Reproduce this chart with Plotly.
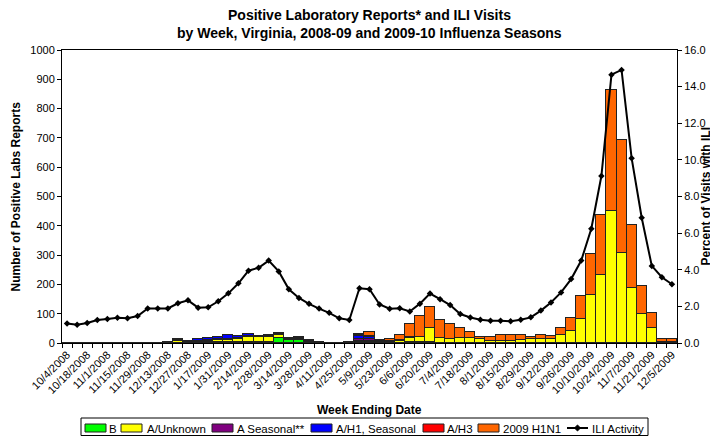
import plotly.graph_objects as go

weeks = ["10/4/2008", "10/11/2008", "10/18/2008", "10/25/2008", "11/1/2008", "11/8/2008",
         "11/15/2008", "11/22/2008", "11/29/2008", "12/6/2008", "12/13/2008", "12/20/2008",
         "12/27/2008", "1/10/2009", "1/17/2009", "1/24/2009", "1/31/2009", "2/7/2009",
         "2/14/2009", "2/21/2009", "2/28/2009", "3/7/2009", "3/14/2009", "3/21/2009",
         "3/28/2009", "4/4/2009", "4/11/2009", "4/18/2009", "4/25/2009", "5/2/2009",
         "5/9/2009", "5/16/2009", "5/23/2009", "5/30/2009", "6/6/2009", "6/13/2009",
         "6/20/2009", "6/27/2009", "7/4/2009", "7/11/2009", "7/18/2009", "7/25/2009",
         "8/1/2009", "8/8/2009", "8/15/2009", "8/22/2009", "8/29/2009", "9/5/2009",
         "9/12/2009", "9/19/2009", "9/26/2009", "10/3/2009", "10/10/2009", "10/17/2009",
         "10/24/2009", "10/31/2009", "11/7/2009", "11/14/2009", "11/21/2009", "11/28/2009",
         "12/5/2009"]

flu_b = [0, 0, 0, 0, 0, 0, 0, 0, 0, 0, 0, 1, 1, 1, 2, 2, 3, 3, 4, 4,
         5, 18, 10, 10, 3, 1, 0, 0, 1, 4, 3, 1, 1, 1, 2, 2, 2, 1, 1, 1,
         1, 1, 1, 1, 1, 1, 1, 1, 1, 1, 1, 1, 1, 1, 1, 1, 1, 1, 1, 1, 1]
a_unknown = [0, 0, 0, 0, 0, 0, 0, 0, 0, 0, 1, 6, 2, 4, 6, 7, 8, 10, 18, 16,
             16, 10, 3, 5, 2, 1, 1, 1, 2, 3, 4, 2, 3, 7, 14, 18, 50, 15, 14, 16,
             17, 11, 7, 7, 6, 9, 11, 11, 11, 26, 40, 81, 163, 230, 450, 305, 186, 97, 50, 2, 2]
a_seasonal = [0, 0, 0, 0, 0, 0, 0, 0, 0, 0, 1, 2, 1, 2, 3, 3, 3, 3, 3, 2,
              2, 2, 2, 2, 2, 0, 0, 0, 0, 8, 6, 2, 1, 1, 2, 1, 0, 0, 0, 0,
              0, 0, 0, 0, 0, 0, 0, 0, 0, 0, 0, 0, 0, 0, 0, 0, 0, 0, 0, 0, 0]
a_h1_seasonal = [0, 0, 0, 0, 0, 0, 0, 0, 0, 0, 3, 3, 4, 8, 7, 10, 14, 9, 5, 2,
                 3, 3, 2, 2, 3, 0, 0, 0, 0, 10, 8, 1, 1, 1, 2, 1, 0, 0, 0, 0,
                 0, 0, 0, 0, 0, 0, 0, 0, 0, 0, 0, 0, 0, 0, 0, 0, 0, 0, 0, 0, 0]
a_h3 = [0, 0, 0, 0, 0, 0, 0, 0, 0, 0, 0, 1, 0, 0, 0, 0, 0, 0, 0, 0,
        0, 0, 0, 0, 0, 0, 0, 0, 0, 2, 3, 1, 1, 0, 1, 0, 0, 0, 0, 0,
        0, 0, 0, 0, 0, 0, 0, 0, 0, 0, 0, 0, 0, 0, 0, 0, 0, 0, 0, 0, 0]
h1n1_2009 = [0, 0, 0, 0, 0, 0, 0, 0, 0, 0, 0, 0, 0, 0, 0, 0, 0, 0, 0, 0,
             0, 0, 0, 0, 0, 0, 0, 0, 0, 4, 12, 2, 6, 17, 43, 71, 70, 61, 51, 33,
             18, 10, 14, 18, 19, 16, 7, 16, 11, 23, 45, 79, 140, 206, 413, 388, 215, 95, 51, 9, 9]
ili_pct = [1.07, 1.00, 1.09, 1.26, 1.31, 1.38, 1.35, 1.47, 1.89, 1.89, 1.89, 2.17, 2.33,
           1.93, 1.95, 2.28, 2.71, 3.26, 3.95, 4.11, 4.50, 3.91, 2.93, 2.46, 2.14, 1.88,
           1.65, 1.35, 1.26, 2.99, 2.94, 2.10, 1.87, 1.90, 1.72, 2.15, 2.70, 2.39, 2.07,
           1.58, 1.39, 1.27, 1.21, 1.21, 1.19, 1.27, 1.40, 1.77, 2.21, 2.76, 3.49, 4.50,
           6.24, 9.12, 14.65, 14.91, 10.09, 6.84, 4.21, 3.59, 3.21]

left_ticks = [0, 100, 200, 300, 400, 500, 600, 700, 800, 900, 1000]
right_ticks = [0, 2, 4, 6, 8, 10, 12, 14, 16]

FONT = "Liberation Sans, Arial, sans-serif"
# the page body adds an 8px margin, so the figure is drawn 8px smaller and offset
OFF = 8
W, H = 718 - OFF, 436 - OFF
ML, MT = 62 - OFF, 50 - OFF
PW, PH = 615, 293
MR, MB = W - ML - PW, H - MT - PH


def px(x):
    # window pixel x -> paper fraction
    return (x - OFF - ML) / PW


def py(y):
    # window pixel y -> paper fraction
    return (MT + PH - (y - OFF)) / PH


xidx = list(range(len(weeks)))

series = [
    ("B", flu_b, "#00FF00"),
    ("A/Unknown", a_unknown, "#FFFF00"),
    ("A Seasonal**", a_seasonal, "#800080"),
    ("A/H1, Seasonal", a_h1_seasonal, "#0000FF"),
    ("A/H3", a_h3, "#FF0000"),
    ("2009 H1N1", h1n1_2009, "#FF6600"),
]
BAR_LINE = "#222222"

fig = go.Figure()
for name, vals, col in series:
    fig.add_trace(go.Bar(x=xidx, y=vals, name=name, width=1.0,
                         marker=dict(color=col, line=dict(color=BAR_LINE, width=1))))

fig.add_trace(go.Scatter(x=xidx, y=ili_pct, name="ILI Activity", yaxis="y2",
                         mode="lines+markers",
                         line=dict(color="black", width=2),
                         marker=dict(symbol="diamond", size=5, color="black")))

# ---- custom legend (layout only) ----
shapes = []
annotations = []
shapes.append(dict(type="rect", xref="paper", yref="paper",
                   x0=px(81), x1=px(648), y0=py(418), y1=py(435.5),
                   line=dict(color="black", width=1), fillcolor="white", layer="above"))
sym_x = [85, 121, 212, 311, 423, 478]
txt_x = [107, 145, 235, 334, 445, 501]
for (name, _, col), sx, tx in zip(series, sym_x, txt_x):
    shapes.append(dict(type="rect", xref="paper", yref="paper",
                       x0=px(sx), x1=px(sx + 21), y0=py(424), y1=py(432),
                       line=dict(color=BAR_LINE, width=1), fillcolor=col, layer="above"))
    annotations.append(dict(text=name, x=px(tx), y=py(428.5), xref="paper", yref="paper",
                            xanchor="left", yanchor="middle", showarrow=False,
                            font=dict(family=FONT, size=11.5, color="black")))
shapes.append(dict(type="line", xref="paper", yref="paper",
                   x0=px(567), x1=px(588), y0=py(428), y1=py(428),
                   line=dict(color="black", width=2), layer="above"))
cx, cy, d = 577.5, 428, 3
shapes.append(dict(type="path", xref="paper", yref="paper",
                   path="M {:.5f},{:.5f} L {:.5f},{:.5f} L {:.5f},{:.5f} L {:.5f},{:.5f} Z".format(
                       px(cx - d), py(cy), px(cx), py(cy - d), px(cx + d), py(cy), px(cx), py(cy + d)),
                   fillcolor="black", line=dict(color="black", width=1), layer="above"))
annotations.append(dict(text="ILI Activity", x=px(590), y=py(428.5), xref="paper", yref="paper",
                        xanchor="left", yanchor="middle", showarrow=False,
                        font=dict(family=FONT, size=11.5, color="black")))

# ---- titles ----
annotations += [
    dict(text="<b>Positive Laboratory Reports* and ILI Visits</b>", x=0.5, xref="paper",
         y=py(15), yref="paper", xanchor="center", yanchor="middle", showarrow=False,
         font=dict(family=FONT, size=14, color="black")),
    dict(text="<b>by Week, Virginia, 2008-09 and 2009-10 Influenza Seasons</b>", x=0.5,
         xref="paper", y=py(33.5), yref="paper", xanchor="center", yanchor="middle",
         showarrow=False, font=dict(family=FONT, size=14, color="black")),
    dict(text="<b>Week Ending Date</b>", x=px(369), xref="paper", y=py(410), yref="paper",
         xanchor="center", yanchor="middle", showarrow=False,
         font=dict(family=FONT, size=12, color="black")),
    dict(text="<b>Number of Positive Labs Reports</b>", x=px(15), xref="paper",
         y=0.5, yref="paper", textangle=-90, xanchor="center", yanchor="middle",
         showarrow=False, font=dict(family=FONT, size=12, color="black")),
    dict(text="<b>Percent of Visits with ILI</b>", x=px(705), xref="paper",
         y=0.5, yref="paper", textangle=-90, xanchor="center", yanchor="middle",
         showarrow=False, font=dict(family=FONT, size=12, color="black")),
]

fig.update_layout(
    width=W, height=H,
    margin=dict(l=ML, r=MR, t=MT, b=MB, autoexpand=False),
    paper_bgcolor="white", plot_bgcolor="white",
    barmode="stack", bargap=0,
    font=dict(family=FONT, size=11, color="black"),
    showlegend=False,
    xaxis=dict(range=[-0.5, len(weeks) - 0.5], automargin=False,
               tickmode="array", tickvals=xidx[::2], ticktext=weeks[::2],
               tickangle=-45, ticks="", showline=True, linecolor="black", linewidth=1,
               mirror=True, showgrid=False, zeroline=False,
               tickfont=dict(size=11, color="black"),
               minor=dict(tickmode="array", tickvals=[i - 0.5 for i in range(len(weeks) + 1)],
                          ticks="outside", ticklen=4, tickcolor="black", tickwidth=1,
                          showgrid=False)),
    yaxis=dict(range=[0, 1000], tickmode="array", tickvals=left_ticks, automargin=False,
               ticks="outside", ticklen=4, tickcolor="black",
               showline=True, linecolor="black", linewidth=1,
               showgrid=False, zeroline=False, tickfont=dict(size=11, color="black")),
    yaxis2=dict(range=[0, 16], overlaying="y", side="right", tickmode="array",
                tickvals=right_ticks, ticktext=["%.1f" % v for v in right_ticks],
                automargin=False,
                ticks="outside", ticklen=4, tickcolor="black",
                showline=True, linecolor="black", linewidth=1,
                showgrid=False, zeroline=False, tickfont=dict(size=11, color="black")),
    shapes=shapes,
    annotations=annotations,
)

fig.write_html("out.html")
